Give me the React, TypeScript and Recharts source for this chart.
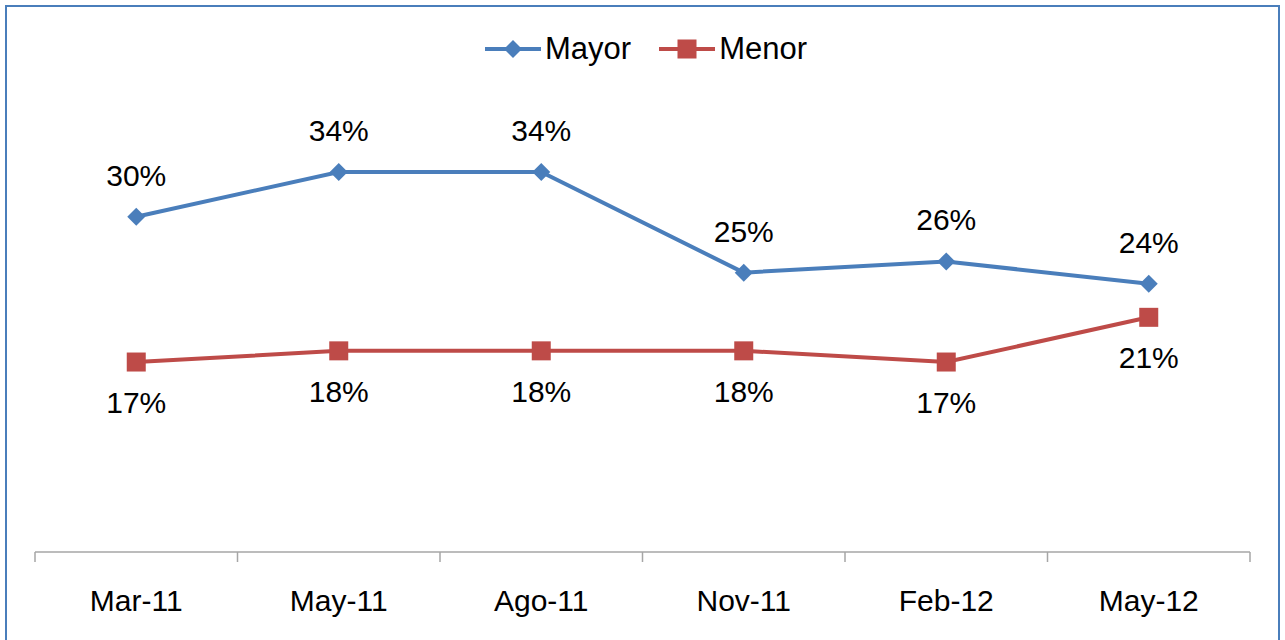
import { ComposedChart, Line, XAxis, YAxis, LabelList } from "recharts";

const categories = ["Mar-11", "May-11", "Ago-11", "Nov-11", "Feb-12", "May-12"];
const mayor = [0.3, 0.34, 0.34, 0.25, 0.26, 0.24];
const menor = [0.17, 0.18, 0.18, 0.18, 0.17, 0.21];

const data = categories.map((c, i) => ({ cat: c, mayor: mayor[i], menor: menor[i] }));

const W = 1285;
const H = 640;
const M = { top: 105, right: 35, bottom: 28, left: 35 };
const BAND = (W - M.left - M.right) / categories.length;
const BLUE = "#4a7ebb";
const RED = "#be4b48";
const FONT = "'Liberation Sans', Arial, sans-serif";
const FS = 30;
const pct = (v: number) => `${Math.round(v * 100)}%`;

function Diamond({ cx, cy, size = 9 }: any) {
  if (cx == null || cy == null) return null;
  const r = size;
  return <polygon points={`${cx},${cy - r} ${cx + r},${cy} ${cx},${cy + r} ${cx - r},${cy}`} fill={BLUE} />;
}

function Square({ cx, cy, size = 19 }: any) {
  if (cx == null || cy == null) return null;
  return <rect x={cx - size / 2} y={cy - size / 2} width={size} height={size} fill={RED} />;
}

function CatTick({ x, y, payload, index }: any) {
  return (
    <g>
      <line x1={x - BAND / 2} x2={x - BAND / 2} y1={y} y2={y + 10} stroke="#a6a6a6" strokeWidth={1.5} />
      {index === categories.length - 1 && (
        <line x1={x + BAND / 2} x2={x + BAND / 2} y1={y} y2={y + 10} stroke="#a6a6a6" strokeWidth={1.5} />
      )}
      <text x={x} y={y + 59} textAnchor="middle" fontSize={FS} fontFamily={FONT} fill="#000">
        {payload.value}
      </text>
    </g>
  );
}

const labelAbove = ({ x, y, value }: any) => (
  <text x={x} y={y - 31} textAnchor="middle" fontSize={FS} fontFamily={FONT} fill="#000">
    {pct(value)}
  </text>
);

const labelBelow = ({ x, y, value }: any) => (
  <text x={x} y={y + 51} textAnchor="middle" fontSize={FS} fontFamily={FONT} fill="#000">
    {pct(value)}
  </text>
);

function LegendBox() {
  const item = (name: string, color: string, marker: "d" | "s") => (
    <div style={{ display: "flex", alignItems: "center", marginRight: 28 }}>
      <svg width={56} height={24}>
        <line x1={0} x2={56} y1={12} y2={12} stroke={color} strokeWidth={4} />
        {marker === "d" ? <Diamond cx={28} cy={12} size={9} /> : <Square cx={28} cy={12} size={19} />}
      </svg>
      <span style={{ fontSize: 31, fontFamily: FONT, color: "#000", marginLeft: 4 }}>{name}</span>
    </div>
  );
  return (
    <div style={{ position: "absolute", top: 31, left: 485, display: "flex" }}>
      {item("Mayor", BLUE, "d")}
      {item("Menor", RED, "s")}
    </div>
  );
}

export default function App() {
  return (
    <div style={{ position: "absolute", top: 0, left: 0, width: W, height: H, background: "#fff", overflow: "hidden" }}>
      <div style={{ position: "absolute", left: 5, top: 5, width: 1271, height: 700, border: `2px solid ${BLUE}` }} />
      <ComposedChart width={W} height={H} data={data} margin={M}>
        <XAxis
          dataKey="cat"
          scale="band"
          height={60}
          axisLine={{ stroke: "#a6a6a6", strokeWidth: 1.5 }}
          tickLine={false}
          tickSize={0}
          tickMargin={0}
          tick={<CatTick />}
          interval={0}
        />
        <YAxis hide width={0} domain={[0, 0.4]} />
        <Line
          dataKey="mayor"
          stroke={BLUE}
          strokeWidth={4}
          dot={<Diamond size={9} />}
          activeDot={false}
          isAnimationActive={false}
        >
          <LabelList dataKey="mayor" content={labelAbove} />
        </Line>
        <Line
          dataKey="menor"
          stroke={RED}
          strokeWidth={4}
          dot={<Square size={19} />}
          activeDot={false}
          isAnimationActive={false}
        >
          <LabelList dataKey="menor" content={labelBelow} />
        </Line>
      </ComposedChart>
      <LegendBox />
    </div>
  );
}
